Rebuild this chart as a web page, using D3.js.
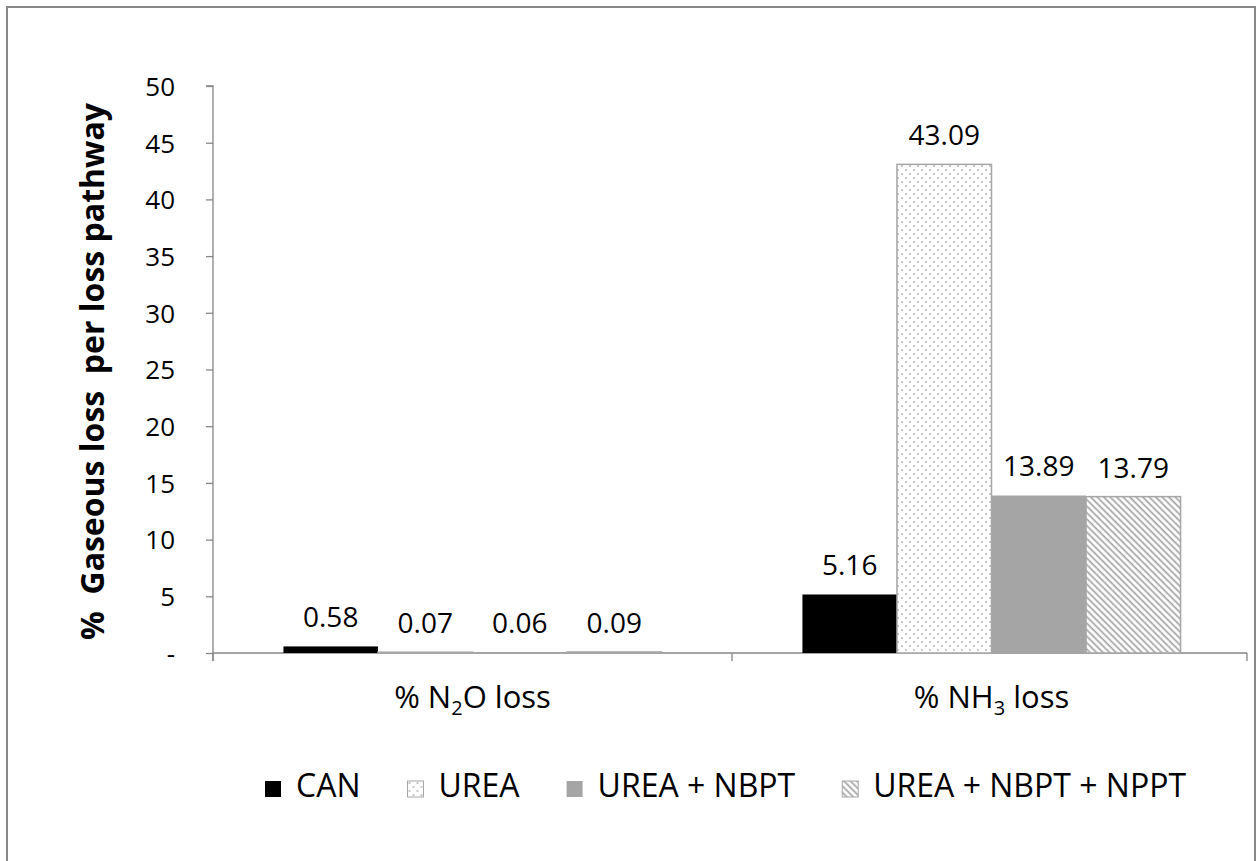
<!DOCTYPE html>
<html>
<head>
<meta charset="utf-8">
<script src="https://cdn.jsdelivr.net/npm/d3@7"></script>
<style>
  html, body { margin: 0; padding: 0; background: #fff; }
  svg text { font-family: "Open Sans", "Noto Sans", sans-serif; fill: #000; }
</style>
</head>
<body>
<svg id="chart" width="1257" height="861"></svg>
<script>
// Loss pathways (x categories) and fertiliser treatments (series)
const categories = ["N2O", "NH3"];
const seriesNames = ["CAN", "UREA", "UREA + NBPT", "UREA + NBPT + NPPT"];

// Percentage of applied N lost per pathway, one array per treatment
const canValues = [0.58, 5.16];
const ureaValues = [0.07, 43.09];
const ureaNbptValues = [0.06, 13.89];
const ureaNbptNpptValues = [0.09, 13.79];

const yTicks = [0, 5, 10, 15, 20, 25, 30, 35, 40, 45, 50];
const yTickLabels = ["-", "5", "10", "15", "20", "25", "30", "35", "40", "45", "50"];

const series = [
  { name: seriesNames[0], values: canValues, fill: "#000000", stroke: "none" },
  { name: seriesNames[1], values: ureaValues, fill: "url(#dots)", stroke: "#a6a6a6" },
  { name: seriesNames[2], values: ureaNbptValues, fill: "#a5a5a5", stroke: "none" },
  { name: seriesNames[3], values: ureaNbptNpptValues, fill: "url(#stripes)", stroke: "#a6a6a6" }
];

const svg = d3.select("#chart");
const axisColor = "#868686";

// fill patterns
const defs = svg.append("defs");
const dots = defs.append("pattern").attr("id", "dots")
  .attr("patternUnits", "userSpaceOnUse").attr("width", 8).attr("height", 8);
dots.append("rect").attr("width", 8).attr("height", 8).attr("fill", "#fff");
dots.append("circle").attr("cx", 2).attr("cy", 2).attr("r", 1).attr("fill", "#b4b4b4");
dots.append("circle").attr("cx", 6).attr("cy", 6).attr("r", 1).attr("fill", "#b4b4b4");

const stripes = defs.append("pattern").attr("id", "stripes")
  .attr("patternUnits", "userSpaceOnUse").attr("width", 4.6).attr("height", 10)
  .attr("patternTransform", "rotate(-45)");
stripes.append("rect").attr("width", 4.6).attr("height", 10).attr("fill", "#fff");
stripes.append("line").attr("x1", 1.2).attr("x2", 1.2).attr("y1", 0).attr("y2", 10)
  .attr("stroke", "#a3a3a3").attr("stroke-width", 1.7);

// outer frame
svg.append("rect").attr("x", 7).attr("y", 7).attr("width", 1248).attr("height", 870)
  .attr("fill", "none").attr("stroke", "#888").attr("stroke-width", 2);

const plot = { left: 213, right: 1251, top: 86, bottom: 653 };

const x0 = d3.scaleBand().domain(categories).range([plot.left, plot.right]).paddingInner(0).paddingOuter(0);
const x1 = d3.scaleBand().domain(seriesNames).range([0, x0.bandwidth()]).paddingOuter(0.745).paddingInner(0);
const y = d3.scaleLinear().domain([0, 50]).range([plot.bottom, plot.top]);

// y axis
const yAxis = svg.append("g").attr("transform", `translate(${plot.left},0)`)
  .call(d3.axisLeft(y).tickValues(yTicks).tickSize(7).tickPadding(31)
    .tickFormat((d, i) => yTickLabels[i]));
yAxis.select(".domain").attr("stroke", axisColor).attr("stroke-width", 1.3)
  .attr("d", `M-7,${plot.top}H0V${plot.bottom + 8}`);
yAxis.selectAll(".tick line").attr("stroke", axisColor).attr("stroke-width", 1.3);
yAxis.selectAll(".tick text").attr("font-size", 26).attr("dy", "0.36em")
  .style("font-family", "'Open Sans', sans-serif");

// x axis baseline with category divider ticks
const xBoundaries = [plot.left].concat(categories.map(c => x0(c) + x0.bandwidth()));
const xAxis = svg.append("g");
xAxis.append("line").attr("x1", plot.left).attr("x2", plot.right - 4)
  .attr("y1", y(0)).attr("y2", y(0)).attr("stroke", axisColor).attr("stroke-width", 1.3);
xAxis.selectAll("line.tick").data(xBoundaries).join("line").attr("class", "tick")
  .attr("x1", (d, i) => i === xBoundaries.length - 1 ? d - 4 : d)
  .attr("x2", (d, i) => i === xBoundaries.length - 1 ? d - 4 : d)
  .attr("y1", y(0)).attr("y2", y(0) + 8)
  .attr("stroke", axisColor).attr("stroke-width", 1.3);

// category labels with subscripts
const catLabels = { N2O: ["% N", "2", "O loss"], NH3: ["% NH", "3", " loss"] };
categories.forEach(c => {
  const t = svg.append("text").attr("x", x0(c) + x0.bandwidth() / 2).attr("y", 708)
    .attr("text-anchor", "middle").attr("font-size", 31);
  const parts = catLabels[c];
  t.append("tspan").text(parts[0]);
  t.append("tspan").text(parts[1]).attr("font-size", 20).attr("dy", 7);
  t.append("tspan").text(parts[2]).attr("dy", -7);
});

// bars
const groups = svg.append("g").selectAll("g").data(series).join("g");
groups.selectAll("rect").data(s => s.values.map((v, i) => ({ s, v, c: categories[i] })))
  .join("rect")
  .attr("x", d => x0(d.c) + x1(d.s.name))
  .attr("y", d => y(d.v))
  .attr("width", x1.bandwidth())
  .attr("height", d => y(0) - y(d.v))
  .attr("fill", d => d.s.fill)
  .attr("stroke", d => d.s.stroke)
  .attr("stroke-width", 1.5);

// value labels
groups.selectAll("text").data(s => s.values.map((v, i) => ({ s, v, c: categories[i] })))
  .join("text")
  .attr("x", d => x0(d.c) + x1(d.s.name) + x1.bandwidth() / 2)
  .attr("y", d => y(d.v) - 19)
  .attr("text-anchor", "middle").attr("font-size", 28)
  .text(d => d.v.toFixed(2));

// y axis title
svg.append("text")
  .attr("transform", `translate(104,${(plot.top + plot.bottom) / 2 + 2}) rotate(-90)`)
  .attr("text-anchor", "middle").attr("font-size", 32).attr("font-weight", "bold")
  .attr("xml:space", "preserve")
  .text("%  Gaseous loss  per loss pathway");

// legend: entries laid out left to right, each after the previous label
const legend = svg.append("g").attr("transform", "translate(265,781)");
let cursor = 0;
series.forEach(s => {
  const g = legend.append("g").attr("transform", `translate(${cursor},0)`);
  g.append("rect").attr("width", 16).attr("height", 16)
    .attr("fill", s.fill)
    .attr("stroke", s.stroke === "none" ? "none" : s.stroke).attr("stroke-width", 1);
  const t = g.append("text").attr("x", 31).attr("y", 16).attr("font-size", 32).text(s.name);
  cursor += 31 + t.node().getComputedTextLength() + 47;
});
</script>
</body>
</html>
